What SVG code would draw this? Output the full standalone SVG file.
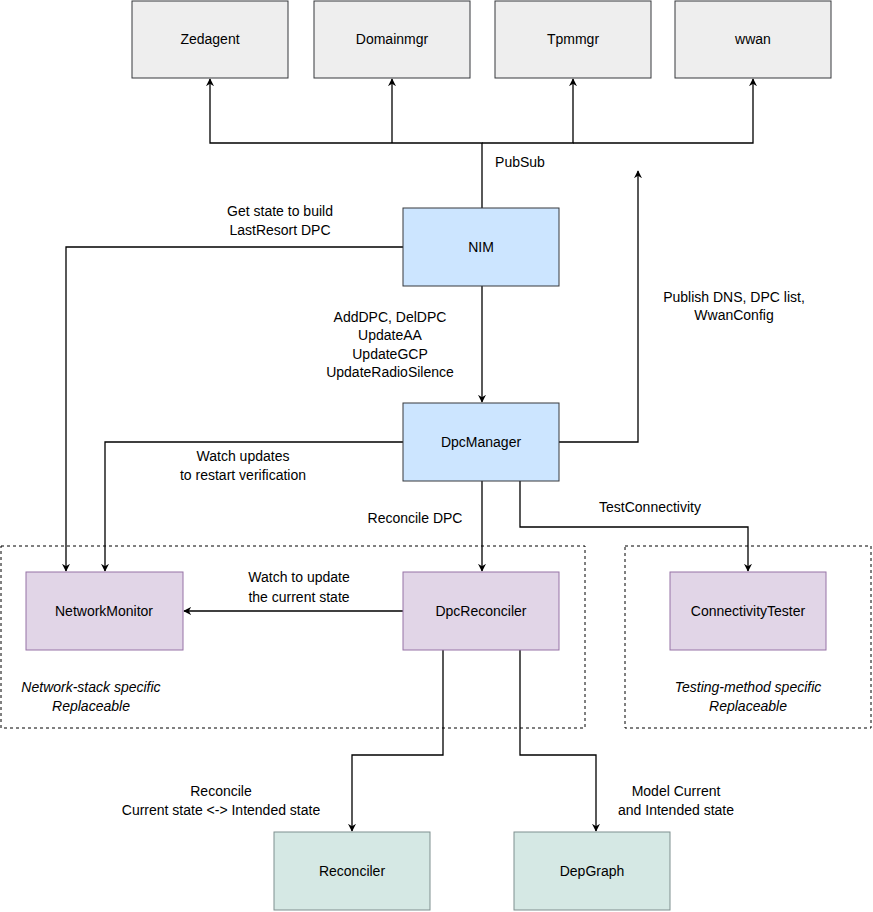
<svg xmlns="http://www.w3.org/2000/svg" width="873" height="912" viewBox="0 0 873 912">
<defs>
<style>
text{font-family:"Liberation Sans",Arial,sans-serif;font-size:14px;fill:#000;text-anchor:middle}
.it{font-style:italic}
.grey{fill:#eeeeee;stroke:#36393d}
.blue{fill:#cce5ff;stroke:#36393d}
.purple{fill:#e1d5e7;stroke:#9673a6}
.teal{fill:#d5e8e4;stroke:#7f8f8f}
.c{fill:none;stroke:#000;stroke-width:1.3}
.d{fill:none;stroke:#000;stroke-dasharray:3 3}
</style>
<marker id="a" viewBox="0 0 10 10" refX="9" refY="5" markerWidth="8" markerHeight="8" orient="auto" markerUnits="userSpaceOnUse"><path d="M0,0 L10,5 L0,10 L3,5 z" fill="#000"/></marker>
</defs>
<rect x="0" y="0" width="873" height="912" fill="#fff"/>
<g id="groups">
<rect class="d" x="1" y="546" width="584" height="182"/>
<rect class="d" x="625" y="546" width="246" height="182"/>
<text class="it" x="91" y="692">Network-stack specific</text>
<text class="it" x="91" y="711">Replaceable</text>
<text class="it" x="748" y="692">Testing-method specific</text>
<text class="it" x="748" y="711">Replaceable</text>
</g>
<g id="connectors">
<path class="c" d="M482,208 V143 H210 V79" marker-end="url(#a)"/>
<path class="c" d="M392,143 V79" marker-end="url(#a)"/>
<path class="c" d="M482,143 H573 V79" marker-end="url(#a)"/>
<path class="c" d="M573,143 H753 V79" marker-end="url(#a)"/>
<path class="c" d="M403,247 H66 V571" marker-end="url(#a)"/>
<path class="c" d="M482,286 V402" marker-end="url(#a)"/>
<path class="c" d="M559,442 H638 V171" marker-end="url(#a)"/>
<path class="c" d="M403,442 H105 V571" marker-end="url(#a)"/>
<path class="c" d="M482,481 V571" marker-end="url(#a)"/>
<path class="c" d="M520,481 V527 H748 V571" marker-end="url(#a)"/>
<path class="c" d="M403,611 H184" marker-end="url(#a)"/>
<path class="c" d="M443,650 V755 H352 V831" marker-end="url(#a)"/>
<path class="c" d="M520,650 V755 H596 V831" marker-end="url(#a)"/>
<text x="520" y="167">PubSub</text>
<text x="280" y="216">Get state to build</text>
<text x="280" y="235">LastResort DPC</text>
<text x="390" y="322">AddDPC, DelDPC</text>
<text x="390" y="340">UpdateAA</text>
<text x="390" y="359">UpdateGCP</text>
<text x="390" y="377">UpdateRadioSilence</text>
<text x="734" y="302">Publish DNS, DPC list,</text>
<text x="734" y="320">WwanConfig</text>
<text x="243" y="461">Watch updates</text>
<text x="243" y="480">to restart verification</text>
<text x="415" y="523">Reconcile DPC</text>
<text x="650" y="512">TestConnectivity</text>
<text x="299" y="582">Watch to update</text>
<text x="299" y="602">the current state</text>
<text x="221" y="796">Reconcile</text>
<text x="221" y="815">Current state &lt;-&gt; Intended state</text>
<text x="676" y="796">Model Current</text>
<text x="676" y="815">and Intended state</text>
</g>
<g id="zedagent"><rect class="grey" x="132" y="1" width="156" height="77"/><text x="210" y="44">Zedagent</text></g>
<g id="domainmgr"><rect class="grey" x="314" y="1" width="156" height="77"/><text x="392" y="44">Domainmgr</text></g>
<g id="tpmmgr"><rect class="grey" x="495" y="1" width="156" height="77"/><text x="573" y="44">Tpmmgr</text></g>
<g id="wwan"><rect class="grey" x="675" y="1" width="156" height="77"/><text x="753" y="44">wwan</text></g>
<g id="nim"><rect class="blue" x="403" y="208" width="156" height="78"/><text x="481" y="252">NIM</text></g>
<g id="dpcmanager"><rect class="blue" x="403" y="403" width="156" height="78"/><text x="481" y="447">DpcManager</text></g>
<g id="dpcreconciler"><rect class="purple" x="403" y="572" width="156" height="78"/><text x="481" y="616">DpcReconciler</text></g>
<g id="networkmonitor"><rect class="purple" x="26" y="572" width="157" height="78"/><text x="104" y="616">NetworkMonitor</text></g>
<g id="connectivitytester"><rect class="purple" x="670" y="572" width="156" height="78"/><text x="748" y="616">ConnectivityTester</text></g>
<g id="reconciler"><rect class="teal" x="274" y="832" width="156" height="78"/><text x="352" y="876">Reconciler</text></g>
<g id="depgraph"><rect class="teal" x="514" y="832" width="156" height="78"/><text x="592" y="876">DepGraph</text></g>
</svg>
